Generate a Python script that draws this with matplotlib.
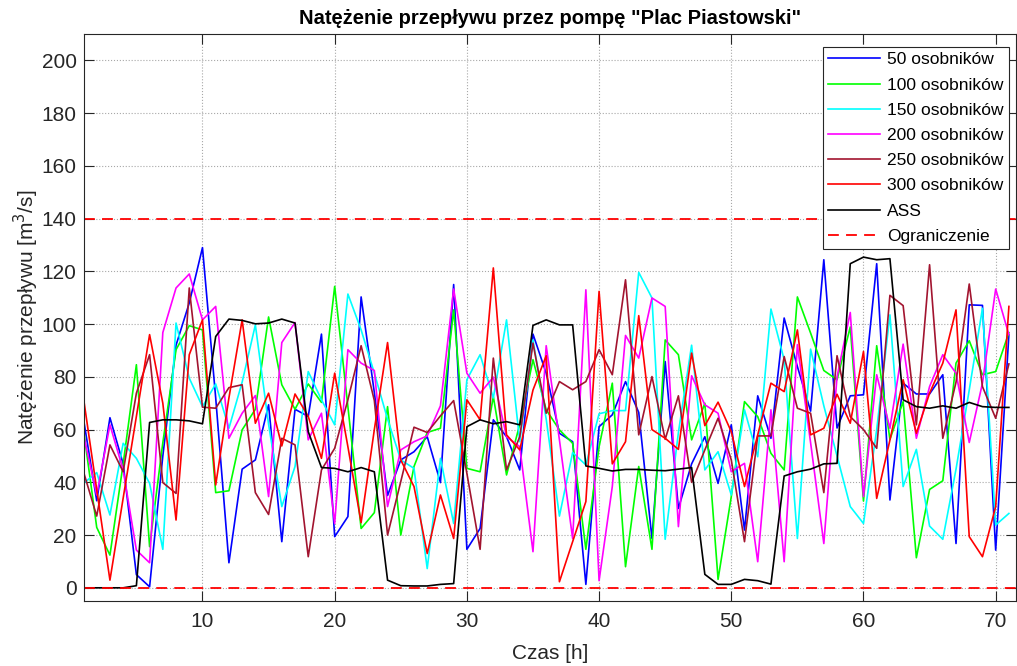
import matplotlib
matplotlib.use("Agg")
import matplotlib.pyplot as plt
import numpy as np

plt.rcParams["font.family"] = ["Liberation Sans", "DejaVu Sans"]

hours = np.arange(1, 72)

# flow per pump for each population size
q50 = [64, 33, 64.5, 47, 5, 0.4, 50, 92, 108, 129, 72, 9.5, 45, 48.5, 69.4, 17.5, 67.7, 65,
       96.2, 19.4, 27, 110.3, 74, 35, 48.5, 51.6, 57.3, 39.9, 115, 14.6, 22.5, 63.7, 57.3,
       44.7, 96.2, 81.4, 58.6, 55.4, 1.3, 61.1, 65.6, 78.2, 66.5, 18.7, 85.8, 30.1, 47,
       57.3, 39.6, 61.8, 21.9, 72.8, 56.7, 102.3, 83.9, 67, 124.4, 60.6, 72.8, 73.2, 122.9,
       33.3, 77.6, 73.5, 73.5, 80.8, 16.8, 107.3, 107.1, 14.3, 96]
q100 = [60, 22.9, 12.4, 47, 84.6, 15.6, 55, 90.3, 99.4, 97.8, 36.1, 36.8, 59.9, 67.7, 102.7,
        77, 67.7, 77.3, 70.3, 114.3, 68.7, 22.5, 28.5, 68.7, 20, 46, 58.9, 60.5, 105.4, 45.3,
        44, 72.5, 42.8, 62, 86.5, 67.5, 59.9, 54.8, 14.6, 53.5, 77.6, 8, 46, 14.6, 94, 88.4,
        56.1, 70, 3.2, 34.6, 70.6, 64.9, 51, 44.7, 110.3, 96.6, 82.4, 78.9, 98.9, 32.9, 91.8,
        56.3, 70.6, 11.4, 37.3, 40.6, 85.2, 93.7, 80.8, 82, 96.8]
q150 = [39.6, 43.7, 27.6, 54.8, 49.1, 39.6, 14.6, 100.4, 79.5, 68.7, 77.3, 60.5, 78, 99.7, 62,
        30.8, 46, 82, 71.3, 61.8, 111.4, 97.8, 81.4, 64, 48.5, 45.3, 7.3, 49.1, 24.4, 78.9,
        88.4, 72, 101.6, 55.4, 94, 64, 27.2, 51.3, 46.6, 66, 67.2, 67.2, 119.6, 109.9, 18.4,
        58.9, 92, 44.7, 51.6, 35.2, 67.5, 49.7, 105.7, 86.5, 18.7, 90.5, 69, 50, 30.8, 24.4,
        60, 103.5, 38.4, 52.5, 23.4, 18.4, 45, 75, 106, 23.8, 28.2]
q200 = [58, 35.2, 61.8, 44.7, 14.3, 9.5, 96.8, 113.7, 119, 101.6, 106.7, 56.7, 66.2, 72.9, 34.6,
        93, 100.6, 56.1, 66.2, 24.4, 90.3, 85.2, 82.4, 30.8, 52.3, 55.4, 57.6, 69, 113.3, 81.4,
        73.8, 79.9, 57.3, 53.5, 13.7, 91.8, 56.1, 18.7, 113, 2.7, 38.4, 95.7, 87.1, 109.9,
        106.7, 23.2, 80.4, 69.4, 66.2, 44, 47.2, 9.9, 67.5, 9.9, 92.2, 55, 16.8, 80, 104.4,
        34.6, 80.8, 60.5, 92.4, 56.7, 76.3, 88.4, 81.4, 55.1, 77.6, 113.3, 96]
q250 = [44, 27.2, 54.2, 44, 73.8, 88.4, 39.9, 35.8, 113.7, 68.5, 68.1, 75.9, 77, 36.1, 27.8,
        56.7, 54.2, 11.8, 44.7, 52.9, 71.3, 91.8, 71, 20, 40.3, 60.9, 58.9, 65.2, 71, 43.4,
        14.6, 87.1, 44.7, 57.3, 92.8, 66.2, 78.2, 75.1, 78.2, 90.3, 80.8, 116.8, 58, 80.1,
        56.3, 72.8, 40, 52.3, 64.3, 48.5, 17.5, 57.6, 57.6, 87.7, 68.1, 66.2, 36.1, 88, 64.9,
        60, 52.9, 110.9, 107, 61.8, 122.5, 56.7, 78, 115.2, 76.3, 64.3, 84.9]
q300 = [71.9, 37.3, 2.9, 34, 65, 96, 70, 25.7, 88.4, 101.6, 39, 72, 101.6, 62.4, 73.8, 53.8,
        73.5, 65, 49.1, 81.4, 53.5, 24.7, 60, 93, 48.5, 38.4, 13, 35.2, 18.7, 71.3, 63.7,
        121.3, 58, 52.3, 75, 88, 2.3, 17.5, 32.7, 112.4, 47, 55.4, 103.2, 60, 56.7, 52.5, 89,
        61.5, 70.4, 59.2, 38.4, 58, 77.6, 74.4, 97.8, 58, 60.5, 73.4, 62.4, 89.6, 33.9, 56,
        78.9, 58.6, 73.8, 85.2, 105.4, 19.4, 11.8, 30.8, 106.7]
q_ass = [0, 0, 0, 0, 0.8, 62.7, 63.7, 63.7, 63.3, 62.2, 95.3, 101.9, 101.4, 100.1, 100.4, 101.9,
         100.4, 59.2, 45.6, 45.3, 44, 45.6, 44, 2.9, 0.8, 0.7, 0.7, 1.3, 1.6, 61.1, 63.7, 62.2,
         63, 61.8, 99.5, 101.6, 99.7, 99.7, 46.2, 45.3, 44.3, 44.9, 44.9, 44.6, 44.4, 45,
         45.6, 5.1, 1.3, 1.3, 3.2, 2.7, 1.4, 42.4, 44, 45, 47, 47.2, 122.9, 125.4, 124.4,
         124.8, 71.3, 68.7, 68.1, 69, 68.1, 70.3, 68.7, 68.4, 68.4]

q_min, q_max = 0, 140

series = [
    (q50, "50 osobników", (0, 0, 1)),
    (q100, "100 osobników", (0, 1, 0)),
    (q150, "150 osobników", (0, 1, 1)),
    (q200, "200 osobników", (1, 0, 1)),
    (q250, "250 osobników", (0.635, 0.078, 0.184)),
    (q300, "300 osobników", (1, 0, 0)),
    (q_ass, "ASS", (0, 0, 0)),
]

W, H = 1017, 666
fig = plt.figure(figsize=(W / 100, H / 100), dpi=100)
# axes box in pixels: left 83.5, right 1016.5, top 34, bottom 601
ax = fig.add_axes([83.5 / W, 1 - 601 / H, 933 / W, 567 / H])

for vals, label, col in series:
    ax.plot(hours, vals, color=col, lw=1.2, label=label)

ax.axhline(q_max, color="red", ls=(0, (6, 4)), lw=1.3, label="Ograniczenie")
ax.axhline(q_min, color="red", ls=(0, (6, 4)), lw=1.3)

ax.set_xlim(1, 1 + 933 / 13.22)
ax.set_ylim(-5, 210)
ax.set_xticks(range(10, 71, 10))
ax.set_yticks(range(0, 201, 20))
ax.grid(True, ls=":", color="#a8a8a8", lw=0.8)
ax.tick_params(direction="in", length=7, width=0.8, top=True, right=True,
               labelsize=15, colors="#262626")
ax.tick_params(axis="x", pad=8)
ax.tick_params(axis="y", pad=5)
for sp in ax.spines.values():
    sp.set_color("#262626")
    sp.set_linewidth(0.8)

ax.set_title('Natężenie przepływu przez pompę "Plac Piastowski"',
             fontsize=14.5, fontweight="bold", pad=7)
ax.set_xlabel("Czas [h]", fontsize=15, color="#262626", labelpad=9)
ax.set_ylabel("Natężenie przepływu [m$^3$/s]", fontsize=15, color="#262626", labelpad=0)

leg = ax.legend(loc="upper right", bbox_to_anchor=(1009 / W, 1 - 47 / H),
                bbox_transform=fig.transFigure, borderaxespad=0,
                fontsize=12.5, frameon=True, fancybox=False,
                handlelength=3.0, handletextpad=0.4, labelspacing=0.58,
                borderpad=0.3, framealpha=1)
leg.get_frame().set_edgecolor("#262626")
leg.get_frame().set_linewidth(0.8)

fig.savefig("out.png", dpi=100)
